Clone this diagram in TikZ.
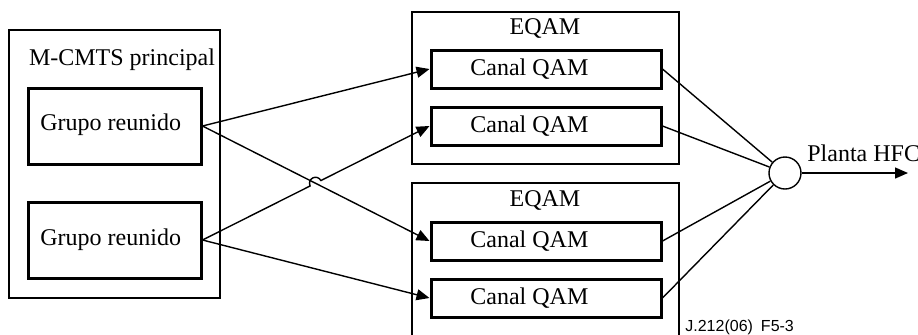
\documentclass[tikz,border=0pt]{standalone}
\usepackage{fontspec}
\setmainfont{Liberation Serif}
\setsansfont{Liberation Sans}
\usetikzlibrary{arrows.meta,calc,intersections}

\begin{document}
\begin{tikzpicture}[x=0.5pt,y=-0.5pt,
  outerbox/.style={draw, line width=0.7pt, rectangle, inner sep=0pt},
  innerbox/.style={draw, line width=1.5pt, rectangle, inner sep=0pt},
  txt/.style={font=\fontsize{12pt}{14pt}\selectfont, inner sep=0pt},
  link/.style={line width=0.7pt},
  feed/.style={link, -{Triangle[length=6.5pt,width=5.5pt]}}
]
\useasboundingbox (0,0) rectangle (918,334);

% M-CMTS principal with its two bonding groups
\node[outerbox, minimum width=105.5pt, minimum height=134pt] (mcmts) at (114.5,164) {};
\node[txt] (mcmtslabel) at (122,60) {M-CMTS principal};
\node[innerbox, minimum width=86.5pt, minimum height=38pt] (g1) at (114.5,126) {};
\node[txt, anchor=west] (g1t) at (40,125) {Grupo reunido};
\node[innerbox, minimum width=86.5pt, minimum height=38pt] (g2) at (114.5,240) {};
\node[txt, anchor=west] (g2t) at (40,240) {Grupo reunido};

% upper EQAM
\node[outerbox, minimum width=133.5pt, minimum height=76pt] (eq1) at (545.5,88) {};
\node[txt] (eq1t) at (545,28) {EQAM};
\node[innerbox, minimum width=115pt, minimum height=19pt] (c1) at (546,69) {};
\node[txt, anchor=west] (c1t) at (470,69) {Canal QAM};
\node[innerbox, minimum width=115pt, minimum height=19pt] (c2) at (546,126) {};
\node[txt, anchor=west] (c2t) at (470,126) {Canal QAM};

% lower EQAM (runs past the lower edge)
\coordinate (eq2a) at (412,340);
\coordinate (eq2b) at (412,183);
\coordinate (eq2c) at (679,183);
\coordinate (eq2d) at (679,340);
\draw[line width=0.7pt] (eq2a) -- (eq2b) -- (eq2c) -- (eq2d);
\node[txt] (eq2t) at (545,200) {EQAM};
\node[innerbox, minimum width=115pt, minimum height=19pt] (c3) at (546,241) {};
\node[txt, anchor=west] (c3t) at (470,241) {Canal QAM};
\node[innerbox, minimum width=115pt, minimum height=19pt] (c4) at (546,298) {};
\node[txt, anchor=west] (c4t) at (470,298) {Canal QAM};

% combiner and output
\node[draw, circle, line width=0.7pt, minimum size=16pt, inner sep=0pt] (hub) at (785,173) {};
\coordinate (out) at (908,173);
\node[txt, anchor=west] (hfc) at (807,153) {Planta HFC};
\node[font=\sffamily\fontsize{8pt}{9pt}\selectfont, anchor=west, inner sep=0pt] (ref) at (685,327) {J.212(06)\enspace F5-3};

% feeds from the bonding groups to the QAM channels
\draw[feed] (g1.east) -- (c1.west);
\draw[feed, name path=cross] (g1.east) -- (c3.west);
\draw[feed] (g2.east) -- (c4.west);
\path[name path=other] (g2.east) -- (c2.west);
\path[name intersections={of=cross and other, by=X}];
\draw[feed] let \p1=($(c2.west)-(g2.east)$), \n1={atan2(\y1,\x1)} in
  (g2.east) -- ($(X)!3pt!(g2.east)$)
  arc[start angle=\n1+180, end angle=\n1, radius=3pt] -- (c2.west);

% channels to the combiner
\draw[link] (c1.east) -- (hub);
\draw[link] (c2.east) -- (hub);
\draw[link] (c3.east) -- (hub);
\draw[link] (c4.east) -- (hub);
\draw[feed] (hub) -- (out);
\end{tikzpicture}
\end{document}
